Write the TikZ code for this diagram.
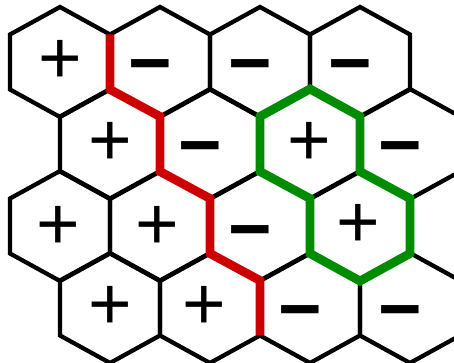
\documentclass[tikz,border=0pt]{standalone}
\usepackage{fontspec}
\setmainfont{Liberation Sans}
\definecolor{wallred}{RGB}{204,0,0}
\definecolor{loopgreen}{RGB}{0,140,0}

% one hexagonal cell centred at (#1,#2), in pixel units
\newcommand{\hexcell}[2]{%
  \draw[cell] (#1,#2-55) -- (#1+50,#2-27.5) -- (#1+50,#2+27.5) -- (#1,#2+55)
    -- (#1-50,#2+27.5) -- (#1-50,#2-27.5) -- cycle;}

\begin{document}
\begin{tikzpicture}[
    x=0.75pt, y=-0.75pt,
    cell/.style={draw=black, line width=3.2pt},
    plus/.style={inner sep=0pt, font=\fontsize{56}{56}\selectfont},
    minus/.style={inner sep=0pt, font=\fontsize{56}{56}\selectfont\bfseries, xshift=-7pt, yshift=-9pt},
    redwall/.style={draw=wallred, line width=6.6pt},
    greenloop/.style={draw=loopgreen, line width=6.6pt}
]
\useasboundingbox (0,0) rectangle (454,363);
\clip (0,0) rectangle (454,363);

% Cells
\foreach \x in {60,160,260,360} {
  \hexcell{\x}{62}
  \hexcell{\x}{226}
}
\foreach \x in {110,210,310,410} {
  \hexcell{\x}{144}
  \hexcell{\x}{308}
}

% Signs
\node[plus]  (s11) at (60,62)   {+};
\node[minus] (s12) at (160,62)  {−};
\node[minus] (s13) at (260,62)  {−};
\node[minus] (s14) at (360,62)  {−};
\node[plus]  (s21) at (110,144) {+};
\node[minus] (s22) at (210,144) {−};
\node[plus]  (s23) at (309,144) {+};
\node[minus] (s24) at (410,144) {−};
\node[plus]  (s31) at (58,228)  {+};
\node[plus]  (s32) at (157,228) {+};
\node[minus] (s33) at (260,228) {−};
\node[plus]  (s34) at (358,226) {+};
\node[plus]  (s41) at (110,308) {+};
\node[plus]  (s42) at (204,308) {+};
\node[minus] (s43) at (310,308) {−};
\node[minus] (s44) at (410,308) {−};

% Domain wall and loop
\draw[redwall] (110,34.5) -- (110,89.5) -- (160,116.5) -- (160,171.5)
  -- (210,198.5) -- (210,253.5) -- (260,280.5) -- (260,335.5);
\draw[greenloop] (310,89) -- (360,116.5) -- (360,171.5) -- (410,198.5)
  -- (410,253.5) -- (360,281) -- (310,253.5) -- (310,198.5)
  -- (260,171.5) -- (260,116.5) -- cycle;

\end{tikzpicture}
\end{document}
